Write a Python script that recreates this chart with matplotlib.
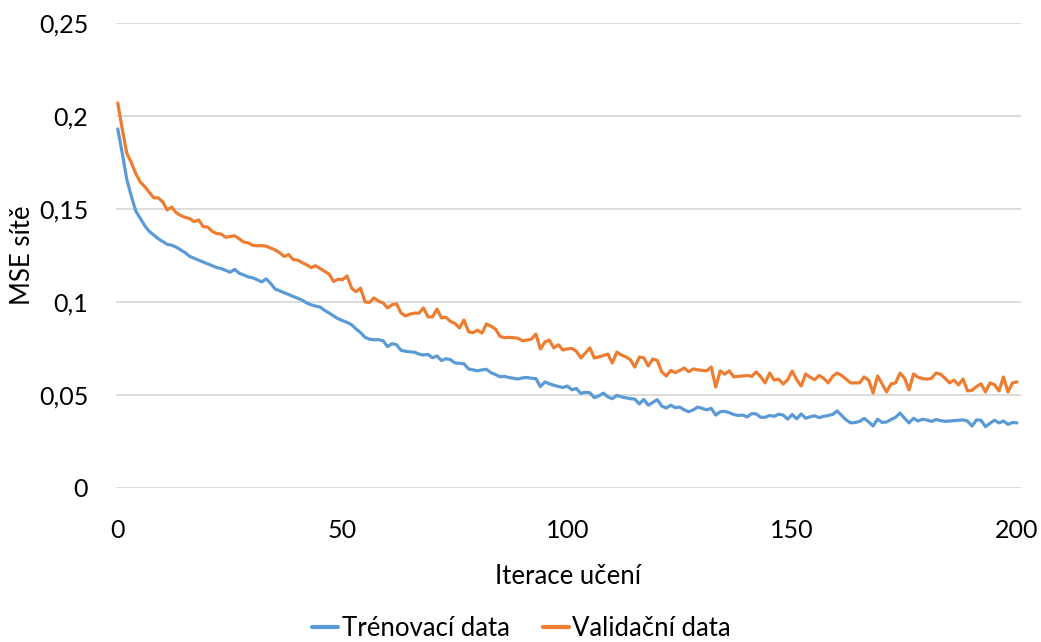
import numpy as np
import matplotlib
matplotlib.use('Agg')
import matplotlib.pyplot as plt

plt.rcParams['font.family'] = ['Lato', 'DejaVu Sans']

# MSE of the network per training iteration
train_mse = [
    0.1930, 0.1800, 0.1660, 0.1570, 0.1490, 0.1450, 0.1410, 0.1380, 0.1360, 0.1340,
    0.1325, 0.1310, 0.1305, 0.1295, 0.1280, 0.1265, 0.1245, 0.1235, 0.1225, 0.1215,
    0.1205, 0.1195, 0.1185, 0.1180, 0.1170, 0.1160, 0.1175, 0.1155, 0.1145, 0.1135,
    0.1130, 0.1120, 0.1108, 0.1124, 0.1100, 0.1070, 0.1060, 0.1050, 0.1040, 0.1030,
    0.1020, 0.1010, 0.0995, 0.0985, 0.0978, 0.0973, 0.0955, 0.0941, 0.0925, 0.0910,
    0.0900, 0.0890, 0.0878, 0.0855, 0.0835, 0.0810, 0.0800, 0.0797, 0.0797, 0.0792,
    0.0760, 0.0776, 0.0770, 0.0740, 0.0735, 0.0732, 0.0730, 0.0720, 0.0715, 0.0718,
    0.0700, 0.0710, 0.0685, 0.0695, 0.0690, 0.0672, 0.0670, 0.0668, 0.0640, 0.0635,
    0.0630, 0.0635, 0.0638, 0.0620, 0.0610, 0.0598, 0.0600, 0.0594, 0.0590, 0.0586,
    0.0592, 0.0594, 0.0590, 0.0588, 0.0545, 0.0570, 0.0560, 0.0552, 0.0546, 0.0540,
    0.0548, 0.0528, 0.0535, 0.0508, 0.0515, 0.0512, 0.0486, 0.0495, 0.0510, 0.0490,
    0.0480, 0.0498, 0.0490, 0.0485, 0.0480, 0.0478, 0.0452, 0.0476, 0.0445, 0.0460,
    0.0475, 0.0440, 0.0430, 0.0445, 0.0432, 0.0435, 0.0420, 0.0410, 0.0420, 0.0435,
    0.0428, 0.0420, 0.0428, 0.0392, 0.0410, 0.0412, 0.0405, 0.0395, 0.0390, 0.0392,
    0.0382, 0.0400, 0.0398, 0.0380, 0.0380, 0.0390, 0.0385, 0.0397, 0.0392, 0.0370,
    0.0395, 0.0372, 0.0398, 0.0375, 0.0383, 0.0388, 0.0378, 0.0385, 0.0390, 0.0395,
    0.0414, 0.0390, 0.0366, 0.0350, 0.0352, 0.0358, 0.0374, 0.0356, 0.0333, 0.0370,
    0.0352, 0.0355, 0.0368, 0.0380, 0.0403, 0.0375, 0.0350, 0.0375, 0.0360, 0.0370,
    0.0365, 0.0358, 0.0368, 0.0362, 0.0358, 0.0360, 0.0362, 0.0364, 0.0366, 0.0360,
    0.0333, 0.0366, 0.0364, 0.0330, 0.0348, 0.0364, 0.0350, 0.0360, 0.0342, 0.0352,
    0.0350,
]

valid_mse = [
    0.2070, 0.1930, 0.1800, 0.1750, 0.1690, 0.1645, 0.1620, 0.1590, 0.1560, 0.1560,
    0.1538, 0.1495, 0.1510, 0.1480, 0.1465, 0.1455, 0.1448, 0.1432, 0.1441, 0.1405,
    0.1403, 0.1380, 0.1368, 0.1365, 0.1348, 0.1352, 0.1356, 0.1340, 0.1322, 0.1318,
    0.1305, 0.1302, 0.1303, 0.1300, 0.1290, 0.1280, 0.1265, 0.1245, 0.1255, 0.1228,
    0.1225, 0.1212, 0.1200, 0.1185, 0.1195, 0.1180, 0.1165, 0.1150, 0.1110, 0.1122,
    0.1120, 0.1140, 0.1075, 0.1055, 0.1075, 0.1000, 0.0998, 0.1022, 0.1005, 0.0995,
    0.0968, 0.0985, 0.0990, 0.0941, 0.0925, 0.0935, 0.0940, 0.0940, 0.0968, 0.0920,
    0.0920, 0.0962, 0.0914, 0.0918, 0.0895, 0.0885, 0.0860, 0.0903, 0.0840, 0.0835,
    0.0848, 0.0833, 0.0882, 0.0870, 0.0855, 0.0815, 0.0808, 0.0810, 0.0808, 0.0805,
    0.0792, 0.0795, 0.0800, 0.0828, 0.0747, 0.0785, 0.0795, 0.0753, 0.0770, 0.0742,
    0.0748, 0.0750, 0.0735, 0.0699, 0.0725, 0.0753, 0.0699, 0.0705, 0.0712, 0.0720,
    0.0672, 0.0731, 0.0715, 0.0705, 0.0690, 0.0650, 0.0704, 0.0700, 0.0656, 0.0694,
    0.0685, 0.0624, 0.0602, 0.0632, 0.0620, 0.0632, 0.0645, 0.0625, 0.0640, 0.0635,
    0.0632, 0.0630, 0.0650, 0.0543, 0.0630, 0.0612, 0.0630, 0.0598, 0.0600, 0.0602,
    0.0605, 0.0600, 0.0624, 0.0598, 0.0565, 0.0618, 0.0580, 0.0585, 0.0559, 0.0582,
    0.0629, 0.0582, 0.0548, 0.0613, 0.0595, 0.0582, 0.0605, 0.0590, 0.0565, 0.0600,
    0.0618, 0.0605, 0.0585, 0.0565, 0.0565, 0.0565, 0.0597, 0.0580, 0.0511, 0.0602,
    0.0560, 0.0516, 0.0560, 0.0565, 0.0618, 0.0590, 0.0527, 0.0613, 0.0595, 0.0588,
    0.0585, 0.0590, 0.0618, 0.0612, 0.0590, 0.0565, 0.0580, 0.0554, 0.0586, 0.0522,
    0.0525, 0.0545, 0.0560, 0.0516, 0.0565, 0.0555, 0.0522, 0.0597, 0.0516, 0.0565,
    0.0570,
]

iterations = np.arange(len(train_mse))
y_ticks = [0, 0.05, 0.1, 0.15, 0.2, 0.25]
y_tick_labels = ['0', '0,05', '0,1', '0,15', '0,2', '0,25']
x_ticks = [0, 50, 100, 150, 200]

colors = {'blue': '#5b9bd5', 'orange': '#ed7d31'}

fig = plt.figure(figsize=(10.41, 6.42), dpi=100)
ax = fig.add_axes([0.1114, 0.2399, 0.8694, 0.7243])

ax.plot(iterations, train_mse, color=colors['blue'], lw=2.3, label='Trénovací data',
        solid_joinstyle='round', solid_capstyle='round')
ax.plot(iterations, valid_mse, color=colors['orange'], lw=2.3, label='Validační data',
        solid_joinstyle='round', solid_capstyle='round')

ax.set_xlim(-0.4, 200.9)
ax.set_ylim(0, 0.25)
ax.set_xticks(x_ticks)
ax.set_yticks(y_ticks)
ax.set_yticklabels(y_tick_labels)
ax.grid(True, axis='y', color='#d9d9d9', lw=1.3)
ax.set_axisbelow(True)
for side in ['top', 'right', 'left', 'bottom']:
    ax.spines[side].set_visible(False)
ax.tick_params(length=0, labelsize=18, colors='black')
ax.tick_params(axis='y', pad=20)
ax.tick_params(axis='x', pad=22)

ax.set_xlabel('Iterace učení', fontsize=18.5, labelpad=16)
ax.set_ylabel('MSE sítě', fontsize=18.5, labelpad=3)

leg = fig.legend(loc='lower center', bbox_to_anchor=(0.501, -0.035), ncol=2, frameon=False,
                 fontsize=18.5, handlelength=1.0, handletextpad=0.15, columnspacing=1.3)
for line in leg.get_lines():
    line.set_linewidth(3)

fig.savefig('out.png', dpi=100)
